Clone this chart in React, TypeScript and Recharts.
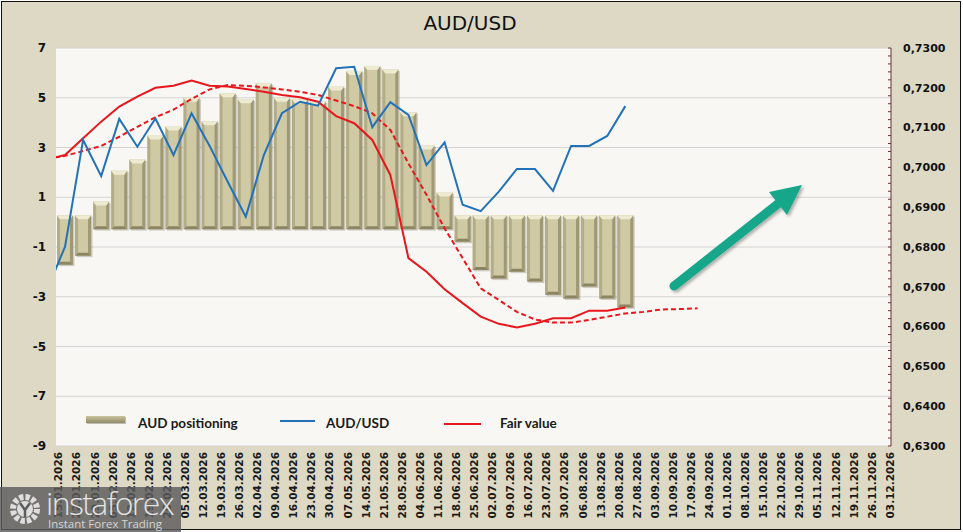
import React from "react";
import { ComposedChart, Bar, Line, XAxis, YAxis, CartesianGrid } from "recharts";

// weekly labels on the category axis
const weeks = [
  "15.01.2026", "22.01.2026", "29.01.2026", "05.02.2026", "12.02.2026", "19.02.2026", "26.02.2026",
  "05.03.2026", "12.03.2026", "19.03.2026", "26.03.2026", "02.04.2026", "09.04.2026", "16.04.2026",
  "23.04.2026", "30.04.2026", "07.05.2026", "14.05.2026", "21.05.2026", "28.05.2026", "04.06.2026",
  "11.06.2026", "18.06.2026", "25.06.2026", "02.07.2026", "09.07.2026", "16.07.2026", "23.07.2026",
  "30.07.2026", "06.08.2026", "13.08.2026", "20.08.2026", "27.08.2026", "03.09.2026", "10.09.2026",
  "17.09.2026", "24.09.2026", "01.10.2026", "08.10.2026", "15.10.2026", "22.10.2026", "29.10.2026",
  "05.11.2026", "12.11.2026", "19.11.2026", "26.11.2026", "03.12.2026",
];

// AUD positioning, starts at weeks[0]
const positioning = [
  -1.71, -1.35, 0.83, 2.07, 2.52, 3.48, 3.84, 5.0, 4.06, 5.18, 4.94, 5.58, 5.0, 4.94, 4.85, 5.45,
  6.08, 6.28, 6.14, 4.42, 3.08, 1.19, -0.79, -1.92, -2.27, -1.99, -2.39, -2.92, -3.07, -2.59, -3.07, -3.43,
];

// line series start one week before weeks[0]
const audusd = [
  0.6692, 0.6801, 0.7069, 0.6978, 0.7122, 0.7052, 0.7123, 0.7031, 0.7136, 0.7054, 0.6964, 0.6876,
  0.7031, 0.7136, 0.7165, 0.7155, 0.7249, 0.7253, 0.7101, 0.7164, 0.7132, 0.7006, 0.7063, 0.6906,
  0.689, 0.6939, 0.6996, 0.6996, 0.6941, 0.7054, 0.7054, 0.7079, 0.7154,
];

const fairValue = [
  0.702, 0.7031, 0.7073, 0.7115, 0.7153, 0.7178, 0.72, 0.7205, 0.7218, 0.7205, 0.7203, 0.7197,
  0.719, 0.7182, 0.7176, 0.7165, 0.7129, 0.7111, 0.7069, 0.6981, 0.6772, 0.6738, 0.6694, 0.6659,
  0.6625, 0.6607, 0.6598, 0.6607, 0.6621, 0.6621, 0.664, 0.664, 0.6648,
];

const fairTrend = [
  0.7022, 0.7029, 0.7041, 0.7054, 0.7077, 0.7102, 0.7126, 0.7145, 0.7172, 0.7196, 0.7207, 0.7205,
  0.7201, 0.7196, 0.719, 0.7182, 0.7168, 0.7154, 0.7136, 0.7094, 0.701, 0.6931, 0.6847, 0.6772,
  0.6696, 0.6667, 0.6637, 0.6618, 0.661, 0.661, 0.6617, 0.6625, 0.6633, 0.6637, 0.6643, 0.6644, 0.6646,
];

const leftTicks = [7, 5, 3, 1, -1, -3, -5, -7, -9];
const rightTicks: number[] = [];
for (let k = 0; k <= 50; k++) rightTicks.push(Number(((630 + 2 * k) / 1000).toFixed(3)));

const seriesNames = ["AUD positioning", "AUD/USD", "Fair value"];

const data: any[] = [];
for (let i = -1; i < weeks.length; i++) {
  data.push({
    x: i,
    pos: positioning[i] ?? null,
    aud: audusd[i + 1] ?? null,
    fair: fairValue[i + 1] ?? null,
    trend: fairTrend[i + 1] ?? null,
  });
}

const LABEL_SHIFT = 0.35; // labels sit a bit left of the columns
const OVERHANG = 7;
const BLUE = "#2272b9";
const RED = "#e8161d";
const AXIS_FONT = "'DejaVu Sans', Verdana, sans-serif";

const BevelBar = (props: any) => {
  const { x, y, width, height, payload } = props;
  if (payload == null || payload.pos == null || !width) return <g />;
  let top = Math.min(y, y + height);
  let bottom = Math.max(y, y + height);
  if (payload.pos >= 0) bottom += OVERHANG;
  else top -= OVERHANG;
  const w = width;
  const h = bottom - top;
  const b = 3;
  return (
    <g>
      <rect x={x + 1.5} y={top + 1.5} width={w} height={h} fill="rgba(60,55,30,0.22)" />
      <rect x={x} y={top} width={w} height={h} fill="#cfc9a4" />
      <polygon points={`${x},${top} ${x + b},${top + b + 1} ${x + b},${bottom - b} ${x},${bottom}`} fill="#b3ad87" />
      <polygon points={`${x + w},${top} ${x + w - b},${top + b + 1} ${x + w - b},${bottom - b} ${x + w},${bottom}`} fill="#9e9874" />
      <polygon points={`${x},${top} ${x + w},${top} ${x + w - b},${top + b + 1} ${x + b},${top + b + 1}`} fill="#eeeacf" />
      <polygon points={`${x},${bottom} ${x + w},${bottom} ${x + w - b},${bottom - b} ${x + b},${bottom - b}`} fill="#8b8562" />
    </g>
  );
};

const DateTick = (props: any) => {
  const { x, y, payload } = props;
  const i = Math.round(payload.value + LABEL_SHIFT);
  return (
    <text
      x={x}
      y={y}
      transform={`rotate(-90 ${x} ${y})`}
      textAnchor="end"
      dy="0.35em"
      fontFamily={AXIS_FONT}
      fontWeight="bold"
      fontSize={10.5}
      fill="#1a1a1a"
    >
      {weeks[i]}
    </text>
  );
};

const LeftTick = (props: any) => {
  const { x, y, payload } = props;
  return (
    <text x={x} y={y} dy="0.35em" textAnchor="end" fontFamily={AXIS_FONT} fontWeight="bold" fontSize={12} fill="#111">
      {payload.value}
    </text>
  );
};

const RightTick = (props: any) => {
  const { x, y, payload } = props;
  const k = Math.round(payload.value * 1000);
  if (k % 10 !== 0) return <g />;
  return (
    <text x={x} y={y} dy="0.35em" textAnchor="start" fontFamily={AXIS_FONT} fontWeight="bold" fontSize={11} fill="#111">
      {payload.value.toFixed(4).replace(".", ",")}
    </text>
  );
};

export default function App() {
  const legendFont = "Lato, 'Open Sans', sans-serif";
  return (
    <div style={{ position: "absolute", left: 0, top: 0, width: 963, height: 532, background: "#fff", overflow: "hidden" }}>
      <div
        style={{
          position: "absolute",
          left: 1,
          top: 1,
          width: 960,
          height: 529,
          boxSizing: "border-box",
          border: "1.5px solid #111",
          background: "#ddd9c4",
        }}
      />
      <div style={{ position: "absolute", left: 0, top: 0 }}>
        <ComposedChart width={963} height={532} data={data} margin={{ top: 48, right: 0, bottom: 0, left: 0 }}>
          <CartesianGrid yAxisId="left" vertical={false} stroke="#d4d4d4" fill="#f8f7f3" />
          <XAxis
            dataKey="x"
            type="number"
            domain={[-0.5, 45.7]}
            allowDataOverflow
            ticks={weeks.map((_, i) => i - LABEL_SHIFT)}
            interval={0}
            tick={<DateTick />}
            axisLine={false}
            tickLine={false}
            tickSize={4}
            tickMargin={2}
            height={86}
          />
          <YAxis
            yAxisId="left"
            domain={[-9, 7]}
            ticks={leftTicks}
            interval={0}
            width={56}
            axisLine={false}
            tickLine={false}
            tickSize={6}
            tickMargin={4}
            tick={<LeftTick />}
          />
          <YAxis
            yAxisId="right"
            orientation="right"
            domain={[0.63, 0.73]}
            ticks={rightTicks}
            interval={0}
            width={72}
            axisLine={{ stroke: "#6e3232", strokeWidth: 1 }}
            tickLine={{ stroke: "#6e3232", strokeWidth: 1 }}
            tickSize={-3}
            tickMargin={15}
            tick={<RightTick />}
          />
          <Bar yAxisId="left" dataKey="pos" name={seriesNames[0]} barSize={16} shape={<BevelBar />} isAnimationActive={false} />
          <Line yAxisId="right" dataKey="trend" stroke={RED} strokeWidth={2} strokeDasharray="5 3" dot={false} isAnimationActive={false} legendType="none" />
          <Line yAxisId="right" dataKey="fair" name={seriesNames[2]} stroke={RED} strokeWidth={2} dot={false} isAnimationActive={false} />
          <Line yAxisId="right" dataKey="aud" name={seriesNames[1]} stroke={BLUE} strokeWidth={2} dot={false} isAnimationActive={false} />
        </ComposedChart>
      </div>
      <svg width={963} height={532} style={{ position: "absolute", left: 0, top: 0, pointerEvents: "none" }}>
        <defs>
          <filter id="arrowShadow" x="-20%" y="-20%" width="140%" height="140%">
            <feDropShadow dx="2" dy="2" stdDeviation="1.5" floodColor="#000" floodOpacity="0.3" />
          </filter>
          <linearGradient id="swatch" x1="0" y1="0" x2="0" y2="1">
            <stop offset="0" stopColor="#c9c39d" />
            <stop offset="1" stopColor="#8f8965" />
          </linearGradient>
        </defs>
        <text x={470} y={30} textAnchor="middle" fontFamily={AXIS_FONT} fontSize={20} fill="#111">
          AUD/USD
        </text>

        {/* legend */}
        <rect x={87} y={417} width={39} height={7} fill="rgba(60,55,30,0.3)" />
        <rect x={86} y={416} width={39} height={7} fill="url(#swatch)" />
        <text x={138} y={428} fontFamily={legendFont} fontWeight="bold" fontSize={13.5} fill="#1a1a1a">
          {seriesNames[0]}
        </text>
        <line x1={280} x2={315} y1={421} y2={421} stroke={BLUE} strokeWidth={2} />
        <text x={326} y={428} fontFamily={legendFont} fontWeight="bold" fontSize={13.5} fill="#1a1a1a">
          {seriesNames[1]}
        </text>
        <line x1={444} x2={481} y1={424} y2={424} stroke={RED} strokeWidth={2} />
        <text x={500} y={428} fontFamily={legendFont} fontWeight="bold" fontSize={13.5} fill="#1a1a1a">
          {seriesNames[2]}
        </text>

        {/* trend arrow */}
        <g filter="url(#arrowShadow)">
          <line x1={674} y1={286} x2={779} y2={203} stroke="#17a68a" strokeWidth={9} strokeLinecap="round" />
          <polygon points="802,185 787,215 769,192" fill="#17a68a" />
        </g>

        {/* watermark */}
        <g>
          <rect x={0} y={487} width={181} height={45} fill="#5c5c5c" opacity={0.82} />
          <circle cx={25} cy={509} r={12} fill="none" stroke="#dedede" strokeWidth={6} strokeDasharray="4.2 2.1" />
          <circle cx={25} cy={509} r={8} fill="#dedede" />
          <path d="M20 503 L25 510 L30 503 M25 510 L25 517" stroke="#5c5c5c" strokeWidth={2.5} fill="none" />
          <text x={46} y={515} fontFamily="'Open Sans', sans-serif" fontWeight={300} fontSize={32} letterSpacing={-1.6} fill="#e4e4e4">
            instaforex
          </text>
          <text x={48} y={528} fontFamily="'Open Sans', sans-serif" fontSize={11.5} fill="#d4d4d4">
            Instant Forex Trading
          </text>
        </g>
      </svg>
    </div>
  );
}
